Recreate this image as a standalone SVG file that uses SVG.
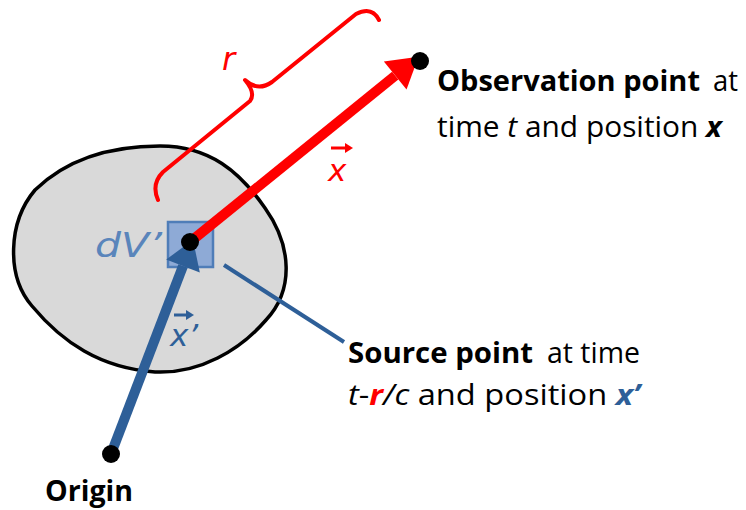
<svg xmlns="http://www.w3.org/2000/svg" width="746" height="510" viewBox="0 0 746 510">
<style>
.lbl{font-family:"Open Sans","Noto Sans","DejaVu Sans",sans-serif;font-size:29px;fill:#000}
.b{font-weight:bold}
.i{font-style:italic}
.hand{font-family:"DejaVu Sans","Noto Sans",sans-serif;font-style:italic}
.dot{fill:#000}
</style>
<defs>
<marker id="ahRed" markerUnits="userSpaceOnUse" markerWidth="40" markerHeight="40" viewBox="0 -20 32 40" refX="0" refY="0" orient="auto">
<path d="M0,-18 L30,0 L0,18 Z" fill="#ff0000"/>
</marker>
<marker id="ahBlue" markerUnits="userSpaceOnUse" markerWidth="40" markerHeight="40" viewBox="0 -20 32 40" refX="0" refY="0" orient="auto">
<path d="M0,-18 L28,0 L0,18 Z" fill="#2e5f98"/>
</marker>
<marker id="ahSmall" markerUnits="userSpaceOnUse" markerWidth="12" markerHeight="12" viewBox="0 -6 10 12" refX="0" refY="0" orient="auto">
<path d="M0,-5 L8,0 L0,5 Z" fill="context-stroke"/>
</marker>
</defs>

<g id="volume">
<path d="M160,146 C210,146 240,172 265,208 C292,246 294,290 266,320 C240,350 200,374 155,372 C100,368 62,342 32,306 C6,276 8,222 35,190 C70,156 115,146 160,146 Z" fill="#d9d9d9" stroke="#000" stroke-width="3.5"/>
</g>

<g id="dV">
<rect x="168" y="222" width="45" height="45" fill="#8eaad6" stroke="#4f7db8" stroke-width="2.5"/>
<text class="hand" x="95" y="257" font-size="34" fill="#5a85bb" textLength="67" lengthAdjust="spacingAndGlyphs">dV’</text>
</g>

<g id="connectors">
<path d="M158,200 Q151,184 163,172 L250,101 Q256,93 245,80 Q258,92 272,82 L356,14 Q372,6 379,20" fill="none" stroke="#ff0000" stroke-width="4" stroke-linecap="round" stroke-linejoin="round"/>
<line x1="190" y1="242" x2="395.2" y2="75.6" stroke="#ff0000" stroke-width="10" marker-end="url(#ahRed)"/>
<line x1="111" y1="454" x2="183" y2="266" stroke="#2e5f98" stroke-width="10" marker-end="url(#ahBlue)"/>
<line x1="224" y1="265" x2="344" y2="342" stroke="#2e5f98" stroke-width="4"/>
</g>

<g id="source-dot"><circle class="dot" cx="190" cy="242" r="9"/></g>

<g id="observation">
<circle class="dot" cx="420" cy="61" r="9"/>
<text class="lbl b" x="437" y="91" textLength="263" lengthAdjust="spacingAndGlyphs">Observation point</text>
<text class="lbl" x="713" y="91" textLength="25" lengthAdjust="spacingAndGlyphs">at</text>
<text class="lbl" x="437" y="137" textLength="285" lengthAdjust="spacingAndGlyphs">time <tspan class="i">t</tspan> and position <tspan class="b i">x</tspan></text>
</g>

<g id="origin">
<circle class="dot" cx="111" cy="454" r="9"/>
<text class="lbl b" x="45" y="501" textLength="88" lengthAdjust="spacingAndGlyphs">Origin</text>
</g>

<g id="source">
<text class="lbl b" x="348" y="363" fill="#2e5f98" textLength="185" lengthAdjust="spacingAndGlyphs">Source point</text>
<text class="lbl" x="547" y="363" textLength="93" lengthAdjust="spacingAndGlyphs">at time</text>
<text class="lbl" x="348" y="405" textLength="292" lengthAdjust="spacingAndGlyphs"><tspan class="i">t</tspan>-<tspan class="b i" fill="#ff0000">r</tspan><tspan class="i">/c</tspan> and position <tspan class="b i" fill="#2e5f98">x’</tspan></text>
</g>

<g id="labels">
<text class="hand" x="222" y="70" font-size="32" fill="#ff0000">r</text>
<text class="hand" x="328" y="181" font-size="31" fill="#ff0000">x</text>
<line x1="331" y1="148" x2="345" y2="148" stroke="#ff0000" stroke-width="3" marker-end="url(#ahSmall)"/>
<text class="hand" x="170" y="346" font-size="31" fill="#2e5f98">x’</text>
<line x1="174" y1="315" x2="186" y2="315" stroke="#2e5f98" stroke-width="3" marker-end="url(#ahSmall)"/>
</g>
</svg>
